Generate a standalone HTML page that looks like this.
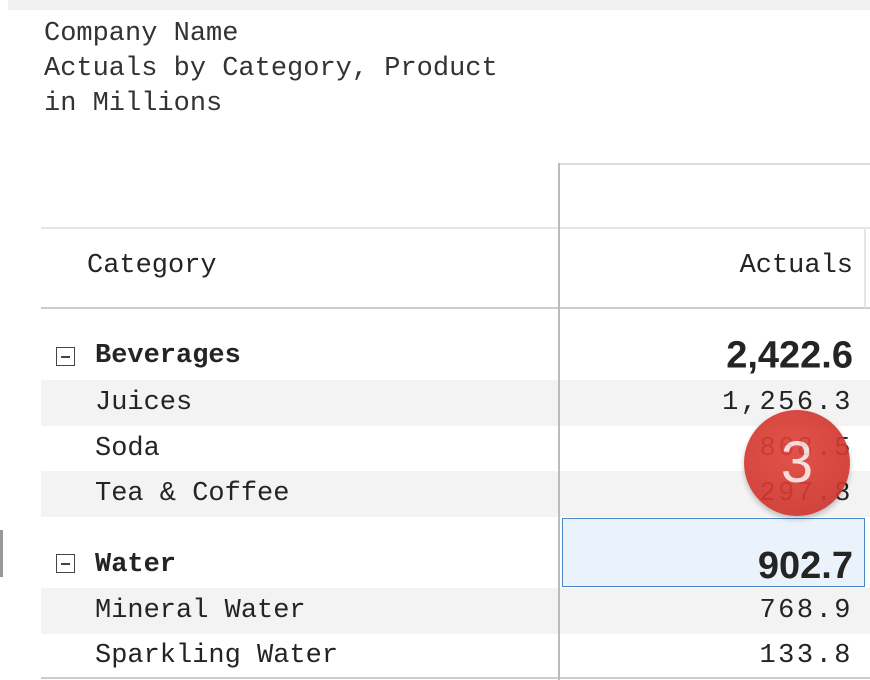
<!DOCTYPE html>
<html><head><meta charset="utf-8"><style>
body{margin:0;width:870px;height:680px;overflow:hidden;background:#fff;position:relative;font-family:"Liberation Mono",monospace;color:#252423}
.abs{position:absolute}
.t{left:44px;font-size:27px;line-height:35px;white-space:pre;color:#333}
.row{position:absolute;left:41px;width:829px}
.lbl{position:absolute;font-size:27px;white-space:pre;top:50%;transform:translateY(-50%)}
.val{position:absolute;right:17px;top:50%;transform:translateY(-50%);font-size:27px;letter-spacing:2.5px;white-space:pre}
.bval{font-family:"Liberation Sans",sans-serif;font-weight:bold;font-size:38px;letter-spacing:0}
.box{position:absolute;width:17px;height:17px;border:1.5px solid #444;left:15px;top:50%;margin-top:-9px}
.box:after{content:"";position:absolute;left:4px;right:4px;top:8px;height:1.5px;background:#444}
</style></head><body>
<div class="abs" style="left:8px;top:0;width:862px;height:10px;background:#f0f0f0"></div>
<div class="abs t" style="top:17px">Company Name</div>
<div class="abs t" style="top:52px">Actuals by Category, Product</div>
<div class="abs t" style="top:87px">in Millions</div>
<div class="abs" style="left:0;top:530px;width:3px;height:47px;background:#999"></div>
<div id="tbl">
<div class="abs" style="left:559px;top:163px;width:311px;height:2px;background:#ddd"></div>
<div class="abs" style="left:41px;top:227px;width:829px;height:2px;background:#e6e6e6"></div>
<div class="abs" style="left:41px;top:307px;width:829px;height:2px;background:#ccc"></div>
<div class="abs" style="left:864px;top:228px;width:2px;height:80px;background:#e6e6e6"></div>
<div class="abs" style="left:87px;top:251px;font-size:27px">Category</div>
<div class="abs" style="right:17px;top:251px;font-size:27px">Actuals</div>
</div>
<div class="abs" style="left:41px;top:677px;width:829px;height:2px;background:#ccc"></div>
<script>
const labels=["Beverages","Juices","Soda","Tea & Coffee","Water","Mineral Water","Sparkling Water"];
const values=[2422.6,1256.3,868.5,297.8,902.7,768.9,133.8];
const isGroup=[true,false,false,false,true,false,false];
const tops=[332,380,426,471,517,588,634],hs=[48,46,45,46,71,46,44];
const body=document.body;
function fmt(v){return v.toLocaleString('en-US',{minimumFractionDigits:1,maximumFractionDigits:1});}
labels.forEach((l,i)=>{
  const r=document.createElement('div');r.className='row';
  
  
  r.style.top=tops[i]+'px';r.style.height=hs[i]+'px';
  if(i==1||i==3||i==5)r.style.background='#f3f3f3';
  if(isGroup[i]){const b=document.createElement('div');b.className='box';
    
    r.appendChild(b);
    if(i==4){b.style.top='auto';b.style.bottom='15px';}}
  const t=document.createElement('div');t.className='lbl';t.textContent=l;
  
  
  t.style.left='54px';if(isGroup[i])t.style.fontWeight='bold';
  if(i==4){t.style.top='auto';t.style.bottom='8px';t.style.transform='none';}
  r.appendChild(t);
  if(i==4){const s=document.createElement('div');s.style.cssText='position:absolute;left:521px;top:1px;width:301px;height:67px;border:1.5px solid #4a86c5;background:#eaf2fb';
    
    r.appendChild(s);}
  const v=document.createElement('div');v.className='val'+(isGroup[i]?' bval':'');v.textContent=fmt(values[i]);
  
  
  if(i==4){v.style.top='auto';v.style.bottom='0px';v.style.transform='none';}
  r.appendChild(v);body.appendChild(r);
});
const vl=document.createElement('div');vl.style.cssText='position:absolute;left:558px;top:163px;width:2px;height:517px;background:#bbb';

body.appendChild(vl);
const bd=document.createElement('div');bd.textContent='3';
bd.style.cssText='position:absolute;left:744px;top:410px;width:106px;height:106px;border-radius:50%;background:radial-gradient(circle at 45% 40%,#e0443b,#c9302a);opacity:.92;color:#f6dcdc;font-family:"Liberation Sans",sans-serif;font-size:58px;text-align:center;line-height:106px;box-shadow:0 3px 6px rgba(0,0,0,.25)';

body.appendChild(bd);
</script>
</body></html>
